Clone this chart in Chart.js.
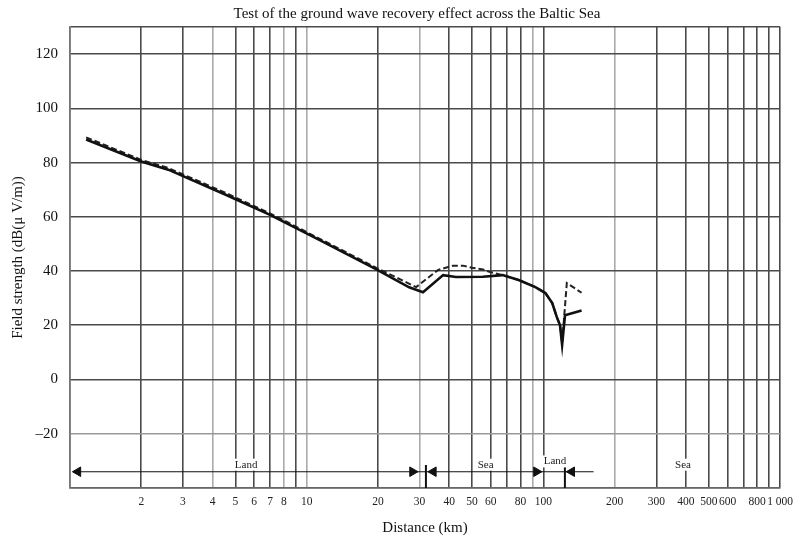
<!DOCTYPE html>
<html>
<head>
<meta charset="utf-8">
<title>Baltic Sea ground wave recovery</title>
<script src="https://cdn.jsdelivr.net/npm/chart.js@4.4.0/dist/chart.umd.min.js"></script>
<style>
  html, body { margin: 0; padding: 0; background: #fff; }
  #wrap { width: 800px; height: 541px; }
</style>
</head>
<body>
<div id="wrap"><canvas id="chart" width="800" height="541"></canvas></div>
<script>
// --- values ---

// solid curve (distance km / field strength dB(uV/m))
const solidDist  = [1.17, 2, 2.6, 4.5, 7.0, 11.3, 19.7, 27.1, 31, 37.7, 42.7, 55.5, 67.3, 78.6, 92.5, 102, 109, 114, 117.6, 120, 123.4, 145];
const solidField = [88.5, 80.4, 77.4, 68.3, 60.7, 51.5, 40.6, 34.0, 32.2, 38.5, 37.8, 37.9, 38.5, 36.7, 34.1, 31.9, 28.2, 23.0, 20.0, 12.8, 23.7, 25.5];

// dashed curve
const dashedDist  = [1.17, 2, 2.6, 4.5, 7.0, 11.3, 19.7, 29, 35.9, 41.5, 45.7, 50, 55.5, 58.7, 67.3, 78.6, 92.5, 102, 109, 114, 117.6, 120, 125.6, 145];
const dashedField = [89.3, 81.0, 78.0, 69.0, 61.3, 52.0, 41.2, 34.1, 40.4, 42.0, 42.0, 41.2, 40.6, 39.8, 38.5, 36.7, 34.1, 31.9, 28.2, 23.0, 20.0, 13.5, 35.6, 32.0];

// path segments along the bottom (Land / Sea / Land / Sea)
const pathLineDist = [1.03, 163];
const pathLevel = -34;
const arrowDist = [1.08, 28, 34.3, 93.5, 131.8];
const arrowDir  = ["left", "right", "left", "right", "left"];
const dividerDist = [31.9, 123.3];
const dividerTop = -31.5;
const regionNames = ["Land", "Sea", "Land", "Sea"];
const regionLabelDist  = [5.55, 57, 112, 389];
const regionLabelLevel = [-31.4, -31.4, -30.2, -31.4];

// axes
const xGridValues = [1, 2, 3, 4, 5, 6, 7, 8, 9, 10, 20, 30, 40, 50, 60, 70, 80, 90, 100, 200, 300, 400, 500, 600, 700, 800, 900, 1000];
const xLabelled   = [2, 3, 4, 5, 6, 7, 8, 10, 20, 30, 40, 50, 60, 80, 100, 200, 300, 400, 500, 600, 800, 1000];
const xLabelText  = ["2", "3", "4", "5", "6", "7", "8", "10", "20", "30", "40", "50", "60", "80", "100", "200", "300", "400", "500", "600", "800", "1 000"];
const xLightLines = [4, 8, 10, 30, 90, 200];
const yGridValues = [-40, -20, 0, 20, 40, 60, 80, 100, 120, 130];
const yLabelled   = [-20, 0, 20, 40, 60, 80, 100, 120];
const yLabelText  = ["\u201320", "0", "20", "40", "60", "80", "100", "120"];

const TITLE = "Test of the ground wave recovery effect across the Baltic Sea";
const SERIF = "'Liberation Serif', 'Times New Roman', 'DejaVu Serif', serif";
const titleCenterX = 417;

function toPoints(xs, ys) {
  return xs.map((x, i) => ({ x: x, y: ys[i] }));
}

// title + region names, drawn on the canvas after the datasets
const textPlugin = {
  id: "figureText",
  afterDraw(chart) {
    const ctx = chart.ctx;
    const xs = chart.scales.x;
    const ys = chart.scales.y;
    ctx.save();
    ctx.fillStyle = "#111";
    ctx.textAlign = "center";
    ctx.textBaseline = "middle";
    ctx.font = "15px " + SERIF;
    ctx.fillText(TITLE, titleCenterX, 14);
    ctx.font = "11px " + SERIF;
    ctx.fillStyle = "#222";
    regionNames.forEach((name, i) => {
      const px = xs.getPixelForValue(regionLabelDist[i]);
      const py = ys.getPixelForValue(regionLabelLevel[i]);
      ctx.fillStyle = "#fff";
      const w = ctx.measureText(name).width;
      ctx.fillRect(px - w / 2 - 2, py - 6, w + 4, 12);
      ctx.fillStyle = "#222";
      ctx.fillText(name, px, py);
    });
    ctx.restore();
  },
};

const dividerPoints = [];
dividerDist.forEach((d) => {
  dividerPoints.push({ x: d, y: dividerTop }, { x: d, y: -40 }, { x: d, y: null });
});

new Chart(document.getElementById("chart"), {
  type: "line",
  data: {
    datasets: [
      {
        data: toPoints(pathLineDist, pathLineDist.map(() => pathLevel)),
        borderColor: "#111",
        borderWidth: 1.2,
        pointRadius: 0,
      },
      {
        data: toPoints(arrowDist, arrowDist.map(() => pathLevel)),
        showLine: false,
        pointStyle: "triangle",
        pointRadius: 5.5,
        pointRotation: arrowDir.map((d) => (d === "left" ? 270 : 90)),
        pointBackgroundColor: "#111",
        pointBorderColor: "#111",
        pointBorderWidth: 1,
      },
      {
        data: dividerPoints,
        borderColor: "#111",
        borderWidth: 2,
        pointRadius: 0,
        spanGaps: false,
      },
      {
        data: toPoints(solidDist, solidField),
        borderColor: "#111",
        borderWidth: 2.6,
        pointRadius: 0,
        tension: 0,
      },
      {
        data: toPoints(dashedDist, dashedField),
        borderColor: "#222",
        borderWidth: 2,
        borderDash: [6, 3],
        pointRadius: 0,
        tension: 0,
      },
    ],
  },
  options: {
    responsive: false,
    animation: false,
    layout: { padding: { top: 27, right: 10, left: 0, bottom: 0 } },
    plugins: {
      legend: { display: false },
      title: { display: false },
      tooltip: { enabled: false },
    },
    scales: {
      x: {
        type: "logarithmic",
        min: 1,
        max: 1000,
        afterBuildTicks: (s) => {
          s.ticks = xGridValues.map((v) => ({ value: v }));
        },
        afterFit: (s) => {
          s.height = 53;
        },
        ticks: {
          autoSkip: false,
          maxRotation: 0,
          padding: 7,
          color: "#222",
          font: { family: SERIF, size: 11.5 },
          callback: (v) => {
            const i = xLabelled.indexOf(v);
            return i >= 0 ? xLabelText[i] : "";
          },
        },
        grid: {
          drawTicks: false,
          lineWidth: 1.6,
          color: (c) => (c.tick && xLightLines.includes(c.tick.value) ? "#aaa" : "#4a4a4a"),
        },
        border: { color: "#666", width: 1.5 },
        title: {
          display: true,
          text: "Distance (km)",
          color: "#111",
          font: { family: SERIF, size: 15 },
          padding: { top: 4, bottom: 4 },
        },
      },
      y: {
        min: -40,
        max: 130,
        afterBuildTicks: (s) => {
          s.ticks = yGridValues.map((v) => ({ value: v }));
        },
        afterFit: (s) => {
          s.width = 70;
        },
        ticks: {
          padding: 12,
          color: "#111",
          font: { family: SERIF, size: 15 },
          callback: (v) => {
            const i = yLabelled.indexOf(v);
            return i >= 0 ? yLabelText[i] : "";
          },
        },
        grid: {
          drawTicks: false,
          lineWidth: 1.6,
          color: (c) => (c.tick && c.tick.value === -20 ? "#999" : "#4a4a4a"),
        },
        border: { color: "#777", width: 1.5 },
        title: {
          display: true,
          text: "Field strength (dB(\u03bc V/m))",
          color: "#111",
          font: { family: SERIF, size: 15 },
          padding: { top: 9, bottom: 4 },
        },
      },
    },
  },
  plugins: [textPlugin],
});
</script>
</body>
</html>
